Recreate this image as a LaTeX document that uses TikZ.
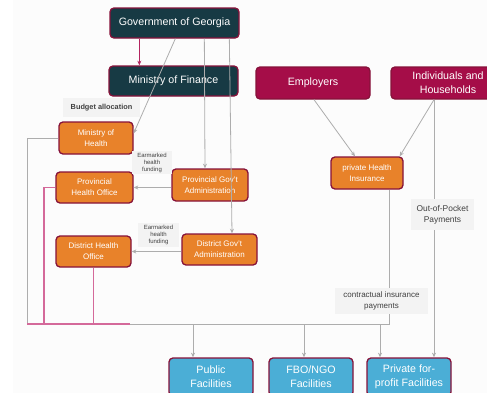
\documentclass[tikz,border=0pt]{standalone}
\usepackage{fontspec}
\setmainfont{Liberation Sans}
\usetikzlibrary{arrows.meta,calc}
\definecolor{govteal}{HTML}{173A44}
\definecolor{boxedge}{HTML}{86123A}
\definecolor{payercrimson}{HTML}{A50D48}
\definecolor{healthorange}{HTML}{E8822A}
\definecolor{facblue}{HTML}{4BAED6}
\definecolor{linegray}{HTML}{ADADAD}
\definecolor{linkpink}{HTML}{D4699A}
\definecolor{arrowcrimson}{HTML}{B3245F}
\definecolor{labelgray}{HTML}{F3F3F3}
\definecolor{labeltext}{HTML}{404040}
\definecolor{pagegray}{HTML}{FCFCFC}
\tikzset{
  box/.style={draw=boxedge,line width=1pt,rounded corners=3pt,text=white,align=center,inner sep=1pt},
  bigbox/.style={box,font=\fontsize{8}{10.5}\selectfont},
  smallbox/.style={box,fill=healthorange,font=\fontsize{6}{8.25}\selectfont},
  facbox/.style={bigbox,fill=facblue,minimum width=63pt,minimum height=28.5pt},
  lbl/.style={fill=labelgray,text=labeltext,align=center,inner sep=1pt},
  gline/.style={draw=linegray,line width=0.6pt},
  garrow/.style={gline,->},
  pline/.style={draw=linkpink,line width=0.8pt}
}
\begin{document}
\begin{tikzpicture}[x=0.75pt,y=-0.75pt,>={Stealth[length=3.5pt,width=3pt]}]
  \useasboundingbox (0,0) rectangle (487,393);
  \fill[pagegray] (13,0) rectangle (487,393);
  \node[bigbox,fill=govteal,minimum width=96.75pt,minimum height=22.5pt] (gov) at (174.5,23) {Government of Georgia};
  \node[bigbox,fill=govteal,minimum width=96.75pt,minimum height=22.5pt] (mof) at (173.5,81) {Ministry of Finance};
  \node[bigbox,fill=payercrimson,minimum width=85.5pt,minimum height=24pt] (emp) at (313,83) {Employers};
  \node[bigbox,fill=payercrimson,minimum width=85.5pt,minimum height=24pt] (ind) at (448,83) {Individuals and\\Households};
  \node[smallbox,minimum width=54pt,minimum height=24pt] (phi) at (367,173) {private Health\\Insurance};
  \node[smallbox,minimum width=55.5pt,minimum height=24pt] (moh) at (96,138) {Ministry of\\Health};
  \node[smallbox,minimum width=57.75pt,minimum height=23.25pt] (pho) at (94.5,187.5) {Provincial\\Health Office};
  \node[smallbox,minimum width=57pt,minimum height=24pt] (pga) at (210,185) {Provincial Gov't\\Administration};
  \node[smallbox,minimum width=56.25pt,minimum height=23.25pt] (dho) at (93.5,251.5) {District Health\\Office};
  \node[smallbox,minimum width=56.25pt,minimum height=23.25pt] (dga) at (219.5,249.5) {District Gov't\\Administration};
  \node[facbox] (pub) at (211,377) {Public\\Facilities};
  \node[facbox] (fbo) at (311,377) {FBO/NGO\\Facilities};
  \node[facbox] (pfp) at (409,377) {Private for-\\profit Facilities};
  \coordinate (busL) at (27,324);
  \coordinate (busR) at (389,324);
  \coordinate (oop) at ($(ind.south)+(-14,0)$);
  \draw[draw=arrowcrimson,line width=0.7pt,->] ($(gov.south west)+(30,0)$) -- ($(mof.north west)+(31,0)$);
  \draw[garrow] ($(gov.south west)+(66,0)$) -- ($(moh.north east)+(0,12)$);
  \draw[garrow] ($(gov.south west)+(95,0)$) -- ($(pga.north)+(-5,0)$);
  \draw[garrow] ($(gov.south west)+(120,0)$) -- ($(dga.north)+(12.5,0)$);
  \draw[garrow] (pga.west |- pho.east) -- (pho.east);
  \draw[garrow] (dga.west |- dho.east) -- (dho.east);
  \draw[garrow] ($(emp.south)+(1,0)$) -- ($(phi.north)+(-12,0)$);
  \draw[garrow] (oop) -- ($(phi.north east)+(-4,0)$);
  \draw[garrow] (oop) -- (oop |- pfp.north);
  \draw[gline] (moh.west) -| (busL) -- (busR) -- (busR |- phi.south);
  \foreach \f/\dx in {pub/-18,fbo/-7,pfp/-29}{
    \coordinate (\f-in) at ($(\f.north)+(\dx,0)$);
    \draw[garrow] (\f-in |- busL) -- (\f-in);
  }
  \draw[pline] (pho.west) -| ($(busL)+(17,0)$);
  \draw[pline] (dho.south) -- (dho.south |- busL);
  \draw[pline] (busL) -- (130,324);
  \node[lbl,font=\bfseries\fontsize{5.5}{7}\selectfont,minimum width=57.75pt,minimum height=14.25pt] (budget) at (101.5,107.5) {Budget allocation};
  \node[lbl,font=\fontsize{4.5}{5.25}\selectfont,minimum width=30pt,minimum height=15.75pt] (ear1) at (152,162.5) {Earmarked\\health\\funding};
  \node[lbl,font=\fontsize{4.5}{5.25}\selectfont,minimum width=30.75pt,minimum height=18pt] (ear2) at (158.5,235) {Earmarked\\health\\funding};
  \node[lbl,font=\fontsize{6.3}{8.25}\selectfont,minimum width=47.25pt,minimum height=23.25pt] (oopl) at (442.5,214.5) {Out-of-Pocket\\Payments};
  \node[lbl,font=\fontsize{6}{8.25}\selectfont,minimum width=69.75pt,minimum height=19.5pt] (cip) at (381.5,301) {contractual insurance\\payments};
\end{tikzpicture}
\end{document}
